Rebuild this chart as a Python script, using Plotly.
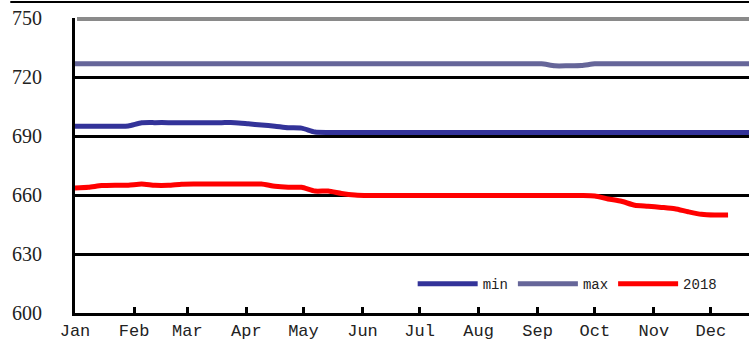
import pandas as pd
import plotly.graph_objects as go

# weekly observation dates (2018)
dates = pd.date_range("2018-01-01", periods=52, freq="7D")

min_vals = [695, 695, 695, 695, 695.1, 696.7,
            696.8, 696.8, 696.8, 696.8, 696.8, 696.8, 696.8,
            696.2, 695.6, 695.0, 694.2, 694.0, 692.0] + [691.8] * 33

max_vals = [726.7] * 35 + [726.7, 725.7, 725.7, 725.8, 726.7] + [726.7] * 12

y2018_vals = [663.6, 663.9, 664.8, 665.0, 665.0, 665.6, 664.9, 664.9, 665.5,
              665.6, 665.6, 665.6, 665.6, 665.6, 665.6, 664.5, 664.0, 663.9,
              662.0, 662.0, 660.8, 660.0] + [659.7] * 17 + \
             [659.5, 658.0, 656.8, 654.8, 654.3, 653.7, 653.0, 651.5, 650.2,
              649.8, 649.8]

series_names = ["min", "max", "2018"]
series_colors = ["#333399", "#666699", "#FF0000"]
y_ticks = [600, 630, 660, 690, 720, 750]
month_ticks = pd.date_range("2018-01-01", periods=12, freq="MS")
month_labels = ["Jan", "Feb", "Mar", "Apr", "May", "Jun",
                "Jul", "Aug", "Sep", "Oct", "Nov", "Dec"]

fig = go.Figure()
for name, vals, col in zip(series_names, [min_vals, max_vals, y2018_vals], series_colors):
    fig.add_trace(go.Scatter(
        x=dates[:len(vals)], y=vals, name=name, mode="lines",
        line=dict(color=col, width=5, shape="spline", smoothing=0.6),
    ))

fig.update_layout(
    width=749, height=343,
    margin=dict(l=75, r=0, t=18, b=30),
    plot_bgcolor="white", paper_bgcolor="white",
    showlegend=True,
    legend=dict(orientation="h", x=0.501, y=0.098, xanchor="left", yanchor="middle",
                bgcolor="rgba(0,0,0,0)", itemwidth=60,
                font=dict(family="Liberation Mono", size=14, color="#222"),
                tracegroupgap=0, itemsizing="constant"),
    xaxis=dict(
        range=["2018-01-01", "2018-12-21"],
        tickvals=list(month_ticks), ticktext=month_labels,
        ticks="inside", ticklen=6, tickwidth=3, tickcolor="black",
        showgrid=False, showline=True, linecolor="black", linewidth=3,
        tickfont=dict(family="Liberation Mono", size=17, color="#222"),
        zeroline=False,
    ),
    yaxis=dict(
        range=[600, 750], tickvals=y_ticks,
        showgrid=True, gridcolor="black", gridwidth=3,
        showline=True, linecolor="black", linewidth=3,
        ticks="", ticklabelstandoff=26,
        tickfont=dict(family="Liberation Serif", size=20, color="#222"),
        zeroline=False,
    ),
    shapes=[
        dict(type="line", xref="paper", yref="paper", x0=0.003, x1=1,
             y0=0.9966, y1=0.9966, line=dict(color="#8a8a8a", width=4), layer="above"),
        dict(type="line", xref="paper", yref="paper", x0=-0.096, x1=1,
             y0=1.054, y1=1.054, line=dict(color="black", width=2)),
    ],
)

fig.write_html(
    "out.html",
    config={"displayModeBar": False},
    post_script="document.body.style.margin='0';document.body.style.overflow='hidden';",
)
